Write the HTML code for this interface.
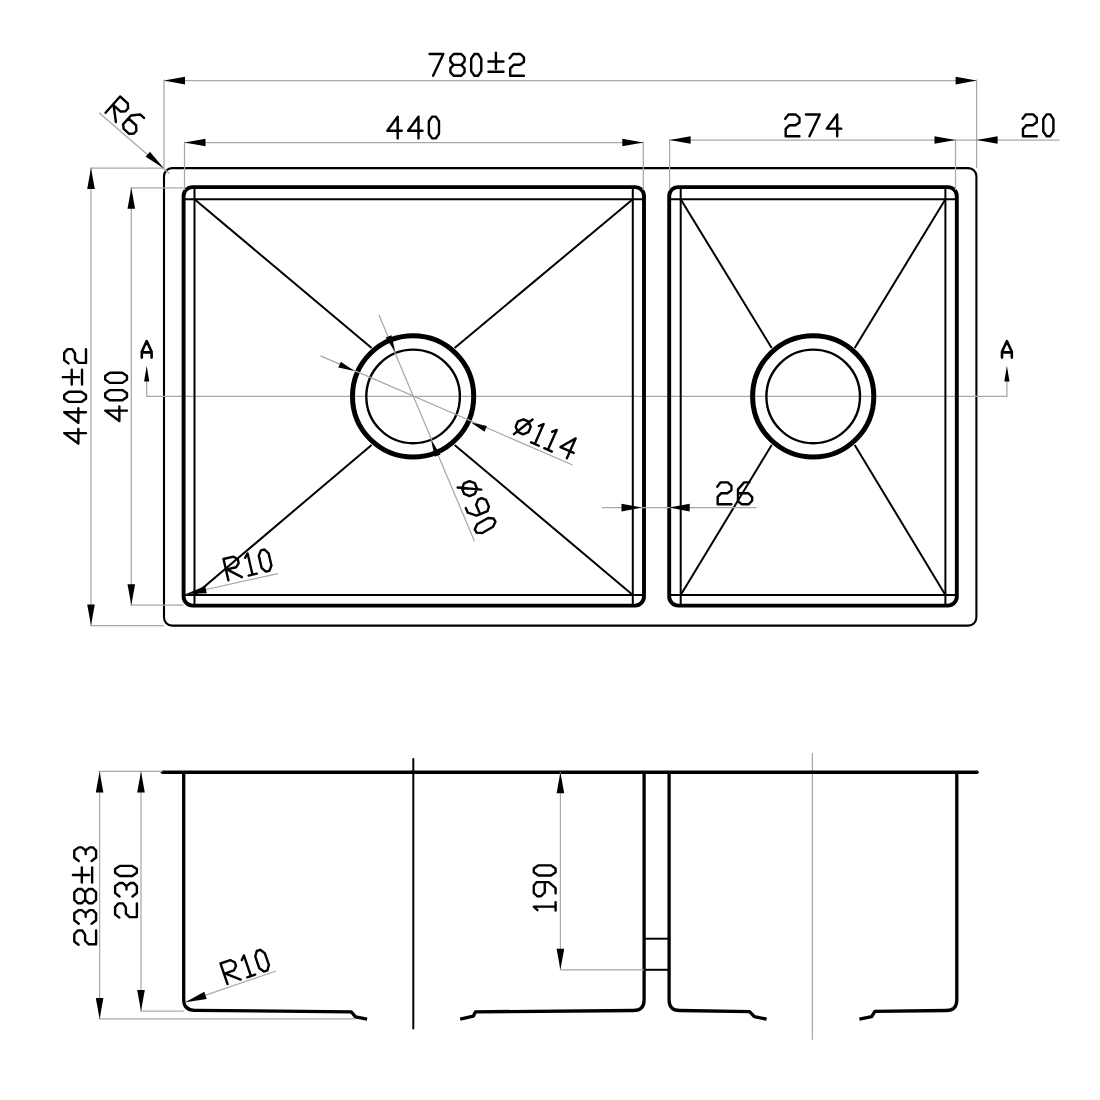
<!DOCTYPE html>
<html><head><meta charset="utf-8"><title>Sink drawing</title>
<style>
html,body{margin:0;padding:0;background:#fff;width:1100px;height:1100px;overflow:hidden;font-family:"Liberation Sans",sans-serif;}
svg{display:block}
.o{fill:none;stroke:#000;stroke-width:2.1}
.t{fill:none;stroke:#000;stroke-width:3.9;stroke-linejoin:round}
.e{fill:none;stroke:#000;stroke-width:3.3;stroke-linejoin:round}
.r{fill:none;stroke:#000;stroke-width:3.6;stroke-linecap:round}
.m{fill:none;stroke:#000;stroke-width:2}
.m2{fill:none;stroke:#000;stroke-width:2.4}
.d{fill:none;stroke:#000;stroke-width:5}
.g{fill:none;stroke:#a8a8a8;stroke-width:1.25}
.k{fill:none;stroke:#000;stroke-width:2.0;stroke-linecap:round}
</style></head>
<body>
<svg width="1100" height="1100" viewBox="0 0 1100 1100">
<rect class="o" x="164" y="168.1" width="812.4" height="457.5" rx="8" ry="8"/>
<polyline class="g" points="146.7,381 146.7,396.4 1006.9,396.4 1006.9,381"/>
<path d="M146.70,365.80 L144.10,381.50 L149.30,381.50 Z" fill="#000"/>
<path d="M1006.90,365.80 L1004.30,381.50 L1009.50,381.50 Z" fill="#000"/>
<path d="M141.8,357.6 V351.70000000000005 L146.70000000000002,341.1 L151.60000000000002,351.70000000000005 V357.6 M141.8,352.40000000000003 H151.60000000000002" fill="none" stroke="#000" stroke-width="2.6" stroke-linecap="round" stroke-linejoin="round"/>
<path d="M1002.0,357.6 V351.70000000000005 L1006.9,341.1 L1011.8,351.70000000000005 V357.6 M1002.0,352.40000000000003 H1011.8" fill="none" stroke="#000" stroke-width="2.6" stroke-linecap="round" stroke-linejoin="round"/>
<rect class="t" x="183.6" y="187.1" width="460.4" height="418.5" rx="9" ry="9"/>
<rect class="t" x="669.2" y="187.1" width="287.6" height="418.5" rx="9" ry="9"/>
<line class="m" x1="183.6" y1="199.3" x2="644" y2="199.3"/>
<line class="m" x1="183.6" y1="595.0" x2="644" y2="595.0"/>
<line class="m" x1="669.2" y1="199.3" x2="956.8" y2="199.3"/>
<line class="m" x1="669.2" y1="595.0" x2="956.8" y2="595.0"/>
<line class="m" x1="194.5" y1="187.1" x2="194.5" y2="605.6"/>
<line class="m" x1="632.8" y1="187.1" x2="632.8" y2="605.6"/>
<line class="m" x1="680.7" y1="187.1" x2="680.7" y2="605.6"/>
<line class="m" x1="945.4" y1="187.1" x2="945.4" y2="605.6"/>
<circle class="d" cx="413.1" cy="396.4" r="60.6"/>
<circle class="m2" cx="413.1" cy="396.4" r="46.8"/>
<circle class="d" cx="813.2" cy="396.4" r="60.6"/>
<circle class="m2" cx="813.2" cy="396.4" r="46.8"/>
<line class="m" x1="194.5" y1="199.3" x2="371.60" y2="347.90"/>
<line class="m" x1="632.8" y1="199.3" x2="454.60" y2="347.90"/>
<line class="m" x1="194.5" y1="595.0" x2="371.60" y2="444.90"/>
<line class="m" x1="632.8" y1="595.0" x2="454.60" y2="444.90"/>
<line class="m" x1="680.7" y1="199.3" x2="771.70" y2="347.90"/>
<line class="m" x1="945.4" y1="199.3" x2="854.70" y2="347.90"/>
<line class="m" x1="680.7" y1="595.0" x2="771.70" y2="444.90"/>
<line class="m" x1="945.4" y1="595.0" x2="854.70" y2="444.90"/>
<line class="g" x1="164" y1="80.6" x2="976.6" y2="80.6"/>
<line class="g" x1="164" y1="79.5" x2="164" y2="168"/>
<line class="g" x1="976.6" y1="79.5" x2="976.6" y2="168"/>
<path d="M164.00,80.60 L185.00,84.40 L185.00,76.80 Z" fill="#000"/>
<path d="M976.60,80.60 L955.60,76.80 L955.60,84.40 Z" fill="#000"/>
<g transform="translate(429.60,54.00) rotate(0.00) scale(0.9900)" fill="none" stroke="#000" stroke-width="2.424" stroke-linecap="round" stroke-linejoin="round"><path transform="translate(0.00,0)" d="M0,0 H13.9 L3.5,22"/><path transform="translate(21.00,0)" d="M3.3,0 H11 L14.3,3.5 V7.5 L11,11 H3.3 L0,7.5 V3.5 Z M3.3,11 L0,14.5 V18.5 L3.3,22 H11 L14.3,18.5 V14.5 L11,11"/><path transform="translate(42.00,0)" d="M3.3,0 H7 L10.2,4.7 V17.3 L7,22 H3.3 L0,17.3 V4.7 Z"/><path transform="translate(59.50,0)" d="M7.5,-1.4 V15 M0,7.6 H15.1 M0,18 H15.1"/><path transform="translate(80.90,0)" d="M0,4.3 L3.3,0 H10.7 L14.4,3.5 V8 L10.3,10.9 H4.1 L0.5,14.6 V22 H14.4"/></g>
<line class="g" x1="184.5" y1="142.5" x2="643.3" y2="142.5"/>
<line class="g" x1="184.5" y1="141.5" x2="184.5" y2="190"/>
<line class="g" x1="643.3" y1="141.5" x2="643.3" y2="190"/>
<path d="M184.50,142.50 L205.50,146.30 L205.50,138.70 Z" fill="#000"/>
<path d="M643.30,142.50 L622.30,138.70 L622.30,146.30 Z" fill="#000"/>
<g transform="translate(387.30,116.60) rotate(0.00) scale(0.9900)" fill="none" stroke="#000" stroke-width="2.424" stroke-linecap="round" stroke-linejoin="round"><path transform="translate(0.00,0)" d="M10.5,22 V0 L0,14.3 H14.6"/><path transform="translate(21.00,0)" d="M10.5,22 V0 L0,14.3 H14.6"/><path transform="translate(42.00,0)" d="M3.3,0 H7 L10.2,4.7 V17.3 L7,22 H3.3 L0,17.3 V4.7 Z"/></g>
<line class="g" x1="669.6" y1="140.0" x2="1059.6" y2="140.0"/>
<line class="g" x1="669.6" y1="139" x2="669.6" y2="190"/>
<line class="g" x1="955.5" y1="139" x2="955.5" y2="190"/>
<path d="M669.60,140.00 L690.60,143.80 L690.60,136.20 Z" fill="#000"/>
<path d="M955.50,140.00 L934.50,136.20 L934.50,143.80 Z" fill="#000"/>
<path d="M976.60,140.00 L997.60,143.80 L997.60,136.20 Z" fill="#000"/>
<g transform="translate(785.20,114.50) rotate(0.00) scale(0.9900)" fill="none" stroke="#000" stroke-width="2.424" stroke-linecap="round" stroke-linejoin="round"><path transform="translate(0.00,0)" d="M0,4.3 L3.3,0 H10.7 L14.4,3.5 V8 L10.3,10.9 H4.1 L0.5,14.6 V22 H14.4"/><path transform="translate(21.00,0)" d="M0,0 H13.9 L3.5,22"/><path transform="translate(42.00,0)" d="M10.5,22 V0 L0,14.3 H14.6"/></g>
<g transform="translate(1022.50,114.40) rotate(0.00) scale(0.9900)" fill="none" stroke="#000" stroke-width="2.424" stroke-linecap="round" stroke-linejoin="round"><path transform="translate(0.00,0)" d="M0,4.3 L3.3,0 H10.7 L14.4,3.5 V8 L10.3,10.9 H4.1 L0.5,14.6 V22 H14.4"/><path transform="translate(21.00,0)" d="M3.3,0 H7 L10.2,4.7 V17.3 L7,22 H3.3 L0,17.3 V4.7 Z"/></g>
<line class="g" x1="91" y1="168.1" x2="91" y2="625.6"/>
<line class="g" x1="90" y1="168.1" x2="164" y2="168.1"/>
<line class="g" x1="90" y1="625.6" x2="164" y2="625.6"/>
<path d="M91.00,168.10 L87.20,189.10 L94.80,189.10 Z" fill="#000"/>
<path d="M91.00,625.60 L94.80,604.60 L87.20,604.60 Z" fill="#000"/>
<g transform="translate(64.20,443.50) rotate(-90.00) scale(0.9900)" fill="none" stroke="#000" stroke-width="2.424" stroke-linecap="round" stroke-linejoin="round"><path transform="translate(0.00,0)" d="M10.5,22 V0 L0,14.3 H14.6"/><path transform="translate(21.00,0)" d="M10.5,22 V0 L0,14.3 H14.6"/><path transform="translate(42.00,0)" d="M3.3,0 H7 L10.2,4.7 V17.3 L7,22 H3.3 L0,17.3 V4.7 Z"/><path transform="translate(59.50,0)" d="M7.5,-1.4 V15 M0,7.6 H15.1 M0,18 H15.1"/><path transform="translate(80.90,0)" d="M0,4.3 L3.3,0 H10.7 L14.4,3.5 V8 L10.3,10.9 H4.1 L0.5,14.6 V22 H14.4"/></g>
<line class="g" x1="131.3" y1="187.8" x2="131.3" y2="605.2"/>
<line class="g" x1="130.3" y1="187.8" x2="183.6" y2="187.8"/>
<line class="g" x1="130.3" y1="605.2" x2="183.6" y2="605.2"/>
<path d="M131.30,187.80 L127.50,208.80 L135.10,208.80 Z" fill="#000"/>
<path d="M131.30,605.20 L135.10,584.20 L127.50,584.20 Z" fill="#000"/>
<g transform="translate(105.20,421.00) rotate(-90.00) scale(0.9900)" fill="none" stroke="#000" stroke-width="2.424" stroke-linecap="round" stroke-linejoin="round"><path transform="translate(0.00,0)" d="M10.5,22 V0 L0,14.3 H14.6"/><path transform="translate(21.00,0)" d="M3.3,0 H7 L10.2,4.7 V17.3 L7,22 H3.3 L0,17.3 V4.7 Z"/><path transform="translate(38.50,0)" d="M3.3,0 H7 L10.2,4.7 V17.3 L7,22 H3.3 L0,17.3 V4.7 Z"/></g>
<line class="g" x1="99.1" y1="112.7" x2="169.5" y2="173.7"/>
<path d="M163.80,168.20 L149.96,151.81 L145.64,156.79 Z" fill="#000"/>
<g transform="translate(120.10,96.50) rotate(41.80) scale(0.9900)" fill="none" stroke="#000" stroke-width="2.424" stroke-linecap="round" stroke-linejoin="round"><path transform="translate(0.00,0)" d="M0,22 V0 H10.4 L14,3.5 V7.5 L10.5,11 H0 M1,11 L14,22"/><path transform="translate(21.00,0)" d="M11.4,0 H6.2 L0,7 V19 L3.6,22 H10.9 L14.3,18.5 V14.8 L10.4,10.9 H0.5"/></g>
<line class="g" x1="320.5" y1="355.9" x2="572.7" y2="465.0"/>
<path d="M354.30,370.90 L340.85,361.70 L338.38,367.39 Z" fill="#000"/>
<path d="M471.00,422.50 L484.45,431.70 L486.92,426.01 Z" fill="#000"/>
<g transform="translate(521.00,414.00) rotate(24.00) scale(0.9900)" fill="none" stroke="#000" stroke-width="2.424" stroke-linecap="round" stroke-linejoin="round"><path transform="translate(0.00,0)" d="M4.4,3.9 L10.2,3.9 L14.3,8 L14.3,13.8 L10.2,17.9 L4.4,17.9 L0.3,13.8 L0.3,8 Z M1.7,21.5 L12.9,0.3"/><path transform="translate(21.00,0)" d="M0.5,3.7 L4,0 V22 M0,22 H8.5"/><path transform="translate(35.50,0)" d="M0.5,3.7 L4,0 V22 M0,22 H8.5"/><path transform="translate(50.00,0)" d="M10.5,22 V0 L0,14.3 H14.6"/></g>
<line class="g" x1="379.0" y1="315.0" x2="474.5" y2="541.3"/>
<path d="M395.30,352.00 L391.51,335.14 L385.80,337.56 Z" fill="#000"/>
<path d="M431.00,440.00 L434.79,456.86 L440.50,454.44 Z" fill="#000"/>
<g transform="translate(476.60,477.70) rotate(67.00) scale(0.9900)" fill="none" stroke="#000" stroke-width="2.424" stroke-linecap="round" stroke-linejoin="round"><path transform="translate(0.00,0)" d="M4.4,3.9 L10.2,3.9 L14.3,8 L14.3,13.8 L10.2,17.9 L4.4,17.9 L0.3,13.8 L0.3,8 Z M1.7,21.5 L12.9,0.3"/><path transform="translate(21.00,0)" d="M2.9,22 H8.1 L14.3,15 V3 L10.7,0 H3.4 L0,3.5 V7.2 L3.9,11.1 H13.8"/></g>
<g transform="translate(492.00,515.70) rotate(60.00) scale(0.9900)" fill="none" stroke="#000" stroke-width="2.424" stroke-linecap="round" stroke-linejoin="round"><path transform="translate(0.00,0)" d="M3.3,0 H7 L10.2,4.7 V17.3 L7,22 H3.3 L0,17.3 V4.7 Z"/></g>
<line class="g" x1="601.8" y1="507.6" x2="756.4" y2="507.6"/>
<path d="M642.00,507.60 L621.50,503.80 L621.50,511.40 Z" fill="#000"/>
<path d="M669.20,507.60 L689.70,511.40 L689.70,503.80 Z" fill="#000"/>
<g transform="translate(717.20,482.40) rotate(0.00) scale(0.9900)" fill="none" stroke="#000" stroke-width="2.424" stroke-linecap="round" stroke-linejoin="round"><path transform="translate(0.00,0)" d="M0,4.3 L3.3,0 H10.7 L14.4,3.5 V8 L10.3,10.9 H4.1 L0.5,14.6 V22 H14.4"/><path transform="translate(21.00,0)" d="M11.4,0 H6.2 L0,7 V19 L3.6,22 H10.9 L14.3,18.5 V14.8 L10.4,10.9 H0.5"/></g>
<line class="g" x1="186.0" y1="594.0" x2="278.0" y2="573.6"/>
<path d="M186.00,594.00 L206.79,593.21 L205.21,585.99 Z" fill="#000"/>
<g transform="translate(223.50,559.00) rotate(-13.00) scale(0.9900)" fill="none" stroke="#000" stroke-width="2.424" stroke-linecap="round" stroke-linejoin="round"><path transform="translate(0.00,0)" d="M0,22 V0 H10.4 L14,3.5 V7.5 L10.5,11 H0 M1,11 L14,22"/><path transform="translate(21.00,0)" d="M0.5,3.7 L4,0 V22 M0,22 H8.5"/><path transform="translate(35.50,0)" d="M3.3,0 H7 L10.2,4.7 V17.3 L7,22 H3.3 L0,17.3 V4.7 Z"/></g>
<line class="k" x1="413.3" y1="759.0" x2="413.3" y2="1028.4"/>
<line class="g" x1="812.4" y1="753.0" x2="812.4" y2="1039.8"/>
<line class="r" x1="162.5" y1="772.3" x2="977.0" y2="772.3"/>
<path class="e" d="M183.7,772.3 V999.5 Q183.7,1010.3 194.7,1010.3 L351.2,1011.8 L355.5,1016.9 L367.1,1019.1"/>
<path class="e" d="M644.1,772.3 V1000 Q644.1,1010.5 633.5,1010.5 L475.5,1011.8 L473.3,1016.2 L460.2,1019.1"/>
<path class="e" d="M669.1,772.3 V1000 Q669.1,1010.5 679.6,1010.5 L749.6,1011.6 L754.3,1016.7 L766.6,1019.1"/>
<path class="e" d="M956.8,772.3 V1000 Q956.8,1010.5 946.3,1010.5 L874.8,1011.4 L871.7,1016.7 L859.4,1019.1"/>
<line class="m" x1="644.1" y1="938.7" x2="669.1" y2="938.7"/>
<line class="m" x1="644.1" y1="969.8" x2="669.1" y2="969.8"/>
<line class="g" x1="99.6" y1="771.4" x2="99.6" y2="1018.9"/>
<line class="g" x1="98.6" y1="771.4" x2="162.5" y2="771.4"/>
<line class="g" x1="98.6" y1="1018.9" x2="355.5" y2="1018.9"/>
<path d="M99.60,771.40 L95.80,792.40 L103.40,792.40 Z" fill="#000"/>
<path d="M99.60,1018.90 L103.40,997.90 L95.80,997.90 Z" fill="#000"/>
<g transform="translate(74.30,944.80) rotate(-90.00) scale(0.9900)" fill="none" stroke="#000" stroke-width="2.424" stroke-linecap="round" stroke-linejoin="round"><path transform="translate(0.00,0)" d="M0,4.3 L3.3,0 H10.7 L14.4,3.5 V8 L10.3,10.9 H4.1 L0.5,14.6 V22 H14.4"/><path transform="translate(21.00,0)" d="M0.3,4.5 L3.8,0 H10.8 L14,4.5 V7.6 L10.8,11.5 H7.3 M10.8,11.5 L14,15.6 V18.8 L10.8,22 H3.8 L0.3,17.5"/><path transform="translate(42.00,0)" d="M3.3,0 H11 L14.3,3.5 V7.5 L11,11 H3.3 L0,7.5 V3.5 Z M3.3,11 L0,14.5 V18.5 L3.3,22 H11 L14.3,18.5 V14.5 L11,11"/><path transform="translate(63.00,0)" d="M7.5,-1.4 V15 M0,7.6 H15.1 M0,18 H15.1"/><path transform="translate(84.40,0)" d="M0.3,4.5 L3.8,0 H10.8 L14,4.5 V7.6 L10.8,11.5 H7.3 M10.8,11.5 L14,15.6 V18.8 L10.8,22 H3.8 L0.3,17.5"/></g>
<line class="g" x1="141.0" y1="771.4" x2="141.0" y2="1011.1"/>
<line class="g" x1="140" y1="1011.1" x2="183.7" y2="1011.1"/>
<path d="M141.00,771.40 L137.20,792.40 L144.80,792.40 Z" fill="#000"/>
<path d="M141.00,1011.10 L144.80,990.10 L137.20,990.10 Z" fill="#000"/>
<g transform="translate(115.10,917.60) rotate(-90.00) scale(0.9900)" fill="none" stroke="#000" stroke-width="2.424" stroke-linecap="round" stroke-linejoin="round"><path transform="translate(0.00,0)" d="M0,4.3 L3.3,0 H10.7 L14.4,3.5 V8 L10.3,10.9 H4.1 L0.5,14.6 V22 H14.4"/><path transform="translate(21.00,0)" d="M0.3,4.5 L3.8,0 H10.8 L14,4.5 V7.6 L10.8,11.5 H7.3 M10.8,11.5 L14,15.6 V18.8 L10.8,22 H3.8 L0.3,17.5"/><path transform="translate(42.00,0)" d="M3.3,0 H7 L10.2,4.7 V17.3 L7,22 H3.3 L0,17.3 V4.7 Z"/></g>
<line class="g" x1="560.4" y1="772.3" x2="560.4" y2="969.8"/>
<line class="g" x1="560.4" y1="969.8" x2="644.1" y2="969.8"/>
<path d="M560.40,772.30 L556.60,793.30 L564.20,793.30 Z" fill="#000"/>
<path d="M560.40,969.80 L564.20,948.80 L556.60,948.80 Z" fill="#000"/>
<g transform="translate(533.80,910.60) rotate(-90.00) scale(0.9900)" fill="none" stroke="#000" stroke-width="2.424" stroke-linecap="round" stroke-linejoin="round"><path transform="translate(0.00,0)" d="M0.5,3.7 L4,0 V22 M0,22 H8.5"/><path transform="translate(14.50,0)" d="M2.9,22 H8.1 L14.3,15 V3 L10.7,0 H3.4 L0,3.5 V7.2 L3.9,11.1 H13.8"/><path transform="translate(35.50,0)" d="M3.3,0 H7 L10.2,4.7 V17.3 L7,22 H3.3 L0,17.3 V4.7 Z"/></g>
<line class="g" x1="185.3" y1="1002.2" x2="276.0" y2="971.0"/>
<path d="M185.30,1002.20 L206.73,998.90 L204.27,991.70 Z" fill="#000"/>
<g transform="translate(220.50,963.50) rotate(-19.00) scale(0.9900)" fill="none" stroke="#000" stroke-width="2.424" stroke-linecap="round" stroke-linejoin="round"><path transform="translate(0.00,0)" d="M0,22 V0 H10.4 L14,3.5 V7.5 L10.5,11 H0 M1,11 L14,22"/><path transform="translate(21.00,0)" d="M0.5,3.7 L4,0 V22 M0,22 H8.5"/><path transform="translate(35.50,0)" d="M3.3,0 H7 L10.2,4.7 V17.3 L7,22 H3.3 L0,17.3 V4.7 Z"/></g>
</svg>
</body></html>
